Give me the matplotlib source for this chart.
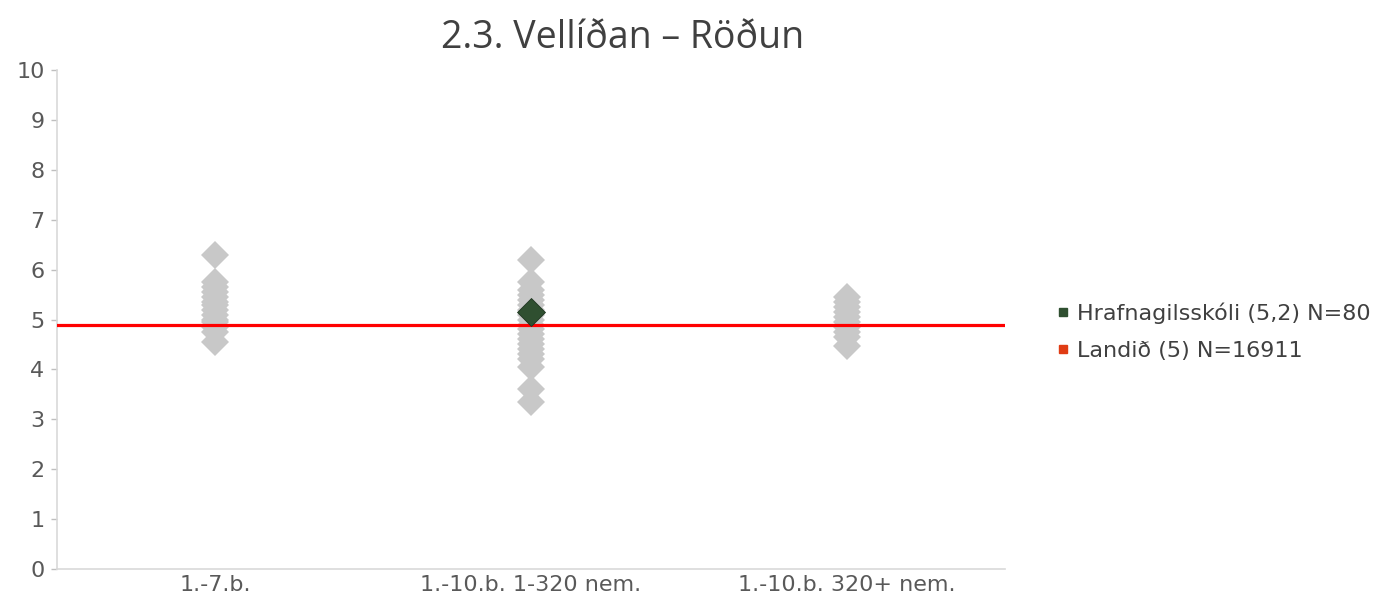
import matplotlib
matplotlib.use("Agg")
import matplotlib.pyplot as plt
from matplotlib.lines import Line2D

categories = ["1.-7.b.", "1.-10.b. 1-320 nem.", "1.-10.b. 320+ nem."]
group1 = [6.3, 5.75, 5.65, 5.55, 5.45, 5.35, 5.3, 5.2, 5.1, 5.0, 4.95, 4.85, 4.75, 4.55]
group2 = [6.2, 5.75, 5.6, 5.5, 5.4, 5.3, 5.2, 5.1, 5.0, 4.9, 4.8, 4.7, 4.6, 4.5,
          4.4, 4.3, 4.2, 4.05, 3.6, 3.35]
group3 = [5.45, 5.35, 5.25, 5.15, 5.05, 4.95, 4.85, 4.75, 4.65, 4.47]
school_value = 5.16
school_cat = 1
national_value = 4.9
yticks = list(range(0, 11))
title = "2.3. Vellíðan – Röðun"
legend_labels = ["Hrafnagilsskóli (5,2) N=80", "Landið (5) N=16911"]

plt.rcParams['font.family'] = ['DejaVu Sans']

fig = plt.figure(figsize=(13.83, 6.04), dpi=100)
ax = fig.add_axes([0.0412, 0.058, 0.6855, 0.826])

gray = "#c8c8c8"
for i, g in enumerate([group1, group2, group3]):
    ax.plot([i] * len(g), g, linestyle="none", marker="D", ms=14.5,
            color=gray, markeredgewidth=0)

ax.plot([school_cat], [school_value], linestyle="none", marker="D", ms=14.5,
        color="#2f4f30", markeredgecolor="#1f3520", markeredgewidth=0.6, zorder=5)

ax.axhline(national_value, color="#ff0000", lw=2.3, zorder=4)

ax.set_xlim(-0.5, 2.5)
ax.set_ylim(0, 10)
ax.set_yticks(yticks)
ax.set_xticks(range(len(categories)))
ax.set_xticklabels(categories)
ax.tick_params(axis="x", length=0, labelsize=16, colors="#595959", pad=4)
ax.tick_params(axis="y", length=4, width=1, color="#bfbfbf", labelsize=16,
               colors="#595959", pad=5)
for s in ["top", "right"]:
    ax.spines[s].set_visible(False)
for s in ["left", "bottom"]:
    ax.spines[s].set_color("#d9d9d9")
    ax.spines[s].set_linewidth(1.2)

fig.text(0.45, 0.937, title, ha="center", va="center", fontsize=27,
         color="#404040", family=["Open Sans", "DejaVu Sans"])

handles = [
    Line2D([], [], linestyle="none", marker="s", ms=6, color="#2f4f30"),
    Line2D([], [], linestyle="none", marker="s", ms=6, color="#e03c14"),
]
leg = fig.legend(handles, legend_labels, loc="center left",
                 bbox_to_anchor=(0.75, 0.451), frameon=False, fontsize=16,
                 handlelength=0.5, handletextpad=0.4, labelspacing=0.75,
                 labelcolor="#404040")

fig.savefig("out.png", dpi=100)
